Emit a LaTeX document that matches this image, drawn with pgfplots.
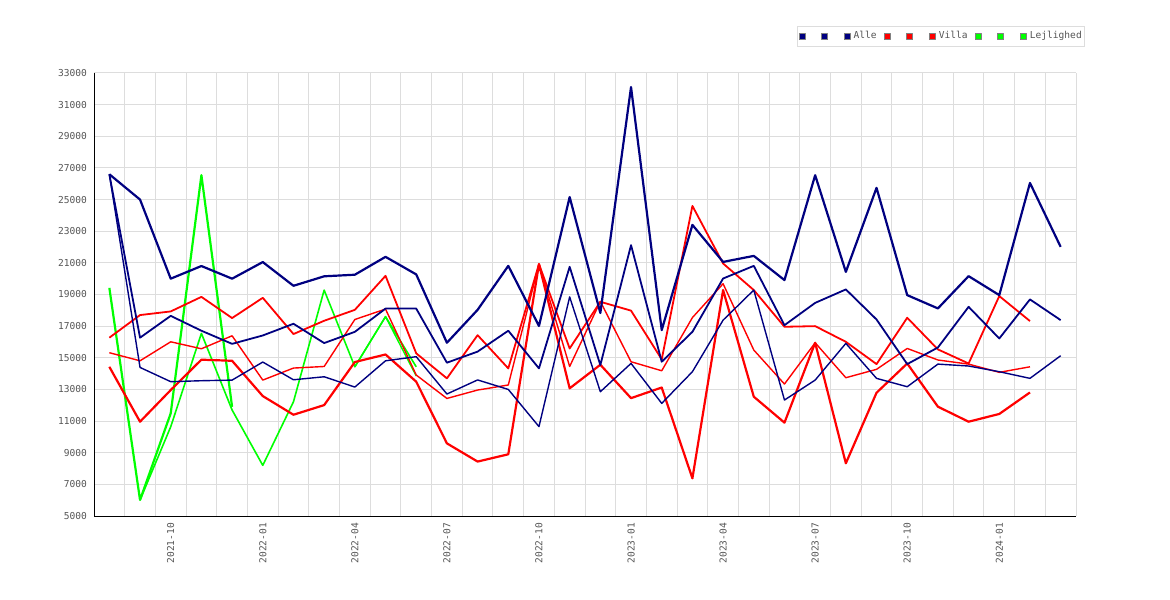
\documentclass[border=0pt]{standalone}
\usepackage{pgfplots}
\pgfplotsset{compat=1.18}
\usepackage{fontspec}
\newfontfamily\monofont{DejaVu Sans Mono}
\definecolor{navyc}{HTML}{000080}
\definecolor{redc}{HTML}{FF0000}
\definecolor{greenc}{HTML}{00FF00}
\definecolor{gridc}{HTML}{DDDDDD}
\definecolor{labc}{HTML}{555555}
\begin{document}
\begin{tikzpicture}
\path[use as bounding box] (0,0) rectangle (1170bp,600bp);
\begin{axis}[
  at={(94bp,84bp)}, anchor=south west,
  scale only axis, width=982bp, height=443bp,
  xmin=-0.5, xmax=31.5, ymin=5000, ymax=33000,
  axis x line*=bottom, axis y line*=left,
  axis line style={black, line width=1bp, -},
  xtick={2,5,8,11,14,17,20,23,26,29},
  xticklabels={2021-10,2022-01,2022-04,2022-07,2022-10,2023-01,2023-04,2023-07,2023-10,2024-01},
  minor xtick={-0.5,0.5,...,31.5},
  ytick={5000,7000,...,33000},
  xminorgrids=true, ymajorgrids=true, xmajorgrids=false,
  grid style={draw=gridc, line width=1bp},
  minor grid style={draw=gridc, line width=1bp},
  major tick length=0pt, minor tick length=0pt,
  scaled y ticks=false,
  /pgf/number format/assume math mode=true,
  /pgf/number format/1000 sep={},
  tick label style={font=\monofont\fontsize{9.6}{11}\selectfont, text=labc},
  xticklabel style={rotate=90, anchor=east, inner xsep=7bp, inner ysep=0pt},
  yticklabel style={anchor=east, inner xsep=7bp, inner ysep=0pt},
  legend columns=9,
  legend cell align=left,
  legend style={
    at={(0.7159,1.1061)}, anchor=north west,
    draw=gridc, fill=white, line width=1bp,
    inner xsep=1bp, inner ysep=4bp,
    font=\monofont\fontsize{9.6}{11}\selectfont, text=labc,
    nodes={inner xsep=1.5bp, inner ysep=1.5bp, text height=7bp, text depth=2.3bp},
    /tikz/every even column/.style={column sep=0pt},
  },
  every axis plot/.append style={line join=round},
]
% ---------- Lejlighed (green) ----------
\addplot[greenc, line width=2.2bp, forget plot] coordinates {
(0,19420) (1,6010) (2,11490) (3,26540) (4,11900)};
\addplot[greenc, line width=1.6bp, forget plot] coordinates {
(1,6010) (2,10640) (3,16540) (4,11700) (5,8200) (6,12220) (7,19280) (8,14430) (9,17600) (10,14430)};
\addplot[greenc, line width=1.4bp, forget plot] coordinates {
(8,14430) (9,17600) (10,13850)};
% ---------- Villa (red) ----------
\addplot[redc, line width=1.8bp, forget plot] coordinates {
(0,16270) (1,17700) (2,17930) (3,18850) (4,17510) (5,18790) (6,16500) (7,17340)
(8,18030) (9,20180) (10,15280) (11,13700) (12,16430) (13,14330) (14,20920) (15,15590)
(16,18540) (17,17980) (18,14900) (19,24600) (20,20960) (21,19280) (22,16960) (23,17000)
(24,16010) (25,14600) (26,17530) (27,15530) (28,14640) (29,18900) (30,17320)};
\addplot[redc, line width=1.4bp, forget plot] coordinates {
(0,15320) (1,14810) (2,16010) (3,15570) (4,16390) (5,13590) (6,14350) (7,14450)
(8,17420) (9,18080) (10,13910) (11,12430) (12,12960) (13,13280) (14,20920) (15,14450)
(16,18560) (17,14750) (18,14180) (19,17540) (20,19680) (21,15490) (22,13340) (23,15950)
(24,13740) (25,14270) (26,15590) (27,14860) (28,14600) (29,14080) (30,14430)};
\addplot[redc, line width=2.2bp, forget plot] coordinates {
(0,14430) (1,10960) (2,12960) (3,14880) (4,14810) (5,12580) (6,11400) (7,12010)
(8,14730) (9,15210) (10,13490) (11,9590) (12,8440) (13,8900) (14,20920) (15,13070)
(16,14560) (17,12450) (18,13120) (19,7380) (20,19280) (21,12540) (22,10900) (23,15950)
(24,8330) (25,12790) (26,14640) (27,11910) (28,10960) (29,11450) (30,12810)};
% ---------- Alle (navy) ----------
\addplot[navyc, line width=1.4bp, forget plot] coordinates {
(0,26600) (1,14390) (2,13490) (3,13550) (4,13590) (5,14730) (6,13610) (7,13800)
(8,13150) (9,14810) (10,15070) (11,12710) (12,13600) (13,13000) (14,10650) (15,18850)
(16,12855) (17,14645) (18,12120) (19,14120) (20,17380) (21,19280) (22,12330) (23,13590)
(24,15910) (25,13700) (26,13170) (27,14600) (28,14480) (29,14120) (30,13700) (31,15130)};
\addplot[navyc, line width=1.8bp, forget plot] coordinates {
(0,26600) (1,16270) (2,17650) (3,16710) (4,15880) (5,16410) (6,17150) (7,15930)
(8,16640) (9,18110) (10,18110) (11,14690) (12,15390) (13,16710) (14,14330) (15,20750)
(16,14540) (17,22120) (18,14750) (19,16640) (20,20010) (21,20810) (22,17060) (23,18470)
(24,19320) (25,17420) (26,14600) (27,15650) (28,18220) (29,16220) (30,18690) (31,17380)};
\addplot[navyc, line width=2.2bp, forget plot] coordinates {
(0,26600) (1,25000) (2,20000) (3,20800) (4,20000) (5,21050) (6,19550) (7,20150)
(8,20250) (9,21380) (10,20270) (11,15950) (12,18030) (13,20810) (14,17010) (15,25160)
(16,17830) (17,32110) (18,16750) (19,23400) (20,21060) (21,21440) (22,19910) (23,26540)
(24,20430) (25,25740) (26,18960) (27,18120) (28,20160) (29,18960) (30,26050) (31,22010)};
% ---------- legend ----------
\addlegendimage{legend image code/.code={\path (0bp,0bp) (7.5bp,0bp); \filldraw[fill=navyc, draw=black!50, line width=0.8bp] (0bp,-3bp) rectangle (6bp,3bp);}}
\addlegendentry{\hspace*{5.6bp}}
\addlegendimage{legend image code/.code={\path (-5.5bp,0bp) (7.5bp,0bp); \filldraw[fill=navyc, draw=black!50, line width=0.8bp] (0bp,-3bp) rectangle (6bp,3bp);}}
\addlegendentry{\hspace*{5.6bp}}
\addlegendimage{legend image code/.code={\path (-5.5bp,0bp) (7.5bp,0bp); \filldraw[fill=navyc, draw=black!50, line width=0.8bp] (0bp,-3bp) rectangle (6bp,3bp);}}
\addlegendentry{Alle}
\addlegendimage{legend image code/.code={\path (-5.5bp,0bp) (7.5bp,0bp); \filldraw[fill=redc, draw=black!50, line width=0.8bp] (0bp,-3bp) rectangle (6bp,3bp);}}
\addlegendentry{\hspace*{5.6bp}}
\addlegendimage{legend image code/.code={\path (-5.5bp,0bp) (7.5bp,0bp); \filldraw[fill=redc, draw=black!50, line width=0.8bp] (0bp,-3bp) rectangle (6bp,3bp);}}
\addlegendentry{\hspace*{5.6bp}}
\addlegendimage{legend image code/.code={\path (-5.5bp,0bp) (7.5bp,0bp); \filldraw[fill=redc, draw=black!50, line width=0.8bp] (0bp,-3bp) rectangle (6bp,3bp);}}
\addlegendentry{Villa}
\addlegendimage{legend image code/.code={\path (-5.5bp,0bp) (7.5bp,0bp); \filldraw[fill=greenc, draw=black!50, line width=0.8bp] (0bp,-3bp) rectangle (6bp,3bp);}}
\addlegendentry{\hspace*{5.6bp}}
\addlegendimage{legend image code/.code={\path (-5.5bp,0bp) (7.5bp,0bp); \filldraw[fill=greenc, draw=black!50, line width=0.8bp] (0bp,-3bp) rectangle (6bp,3bp);}}
\addlegendentry{\hspace*{5.6bp}}
\addlegendimage{legend image code/.code={\path (-5.5bp,0bp) (7.5bp,0bp); \filldraw[fill=greenc, draw=black!50, line width=0.8bp] (0bp,-3bp) rectangle (6bp,3bp);}}
\addlegendentry{Lejlighed}
\end{axis}
\end{tikzpicture}
\end{document}
